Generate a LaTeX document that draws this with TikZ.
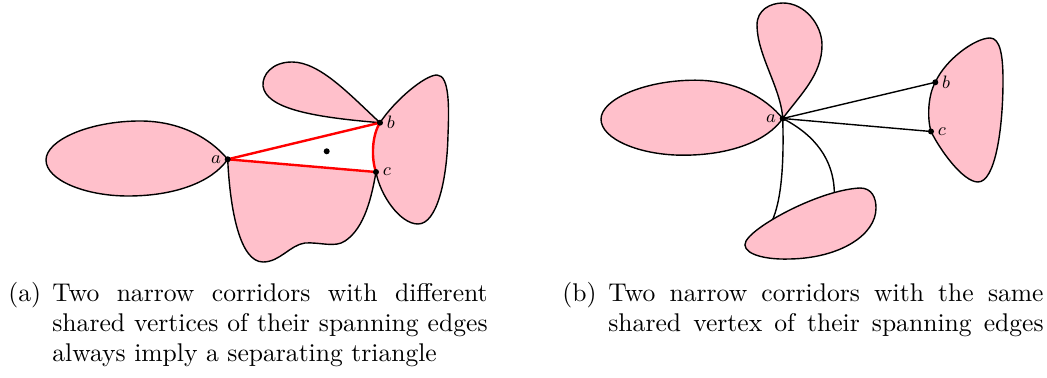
\documentclass[tikz,border=0pt]{standalone}
\usepackage{xcolor}
\definecolor{pinkfill}{RGB}{255,192,203}
\newcommand{\capline}[1]{\scalebox{1.28}{\makebox[170pt][s]{#1}}}
\newcommand{\caplast}[1]{\scalebox{1.28}{#1}}
\begin{document}
\begin{tikzpicture}[x=0.5pt,y=-0.5pt,
  outl/.style={draw=black, line width=0.7pt},
  redl/.style={draw=red, line width=1.2pt},
  edgel/.style={draw=black, line width=0.7pt},
  dot/.style={circle, fill=black, inner sep=0pt, minimum size=3pt},
  lab/.style={font=\fontsize{9}{11}\selectfont, inner sep=1.5pt},
  captext/.style={anchor=base west, inner sep=0pt}]
\useasboundingbox (0,0) rectangle (1047,378);
% ---------- coordinates ----------
\coordinate (A1) at (227.7,159.3);
\coordinate (B1) at (380,122.7);
\coordinate (C1) at (376,172);
\coordinate (M1) at (326.7,151.3);
\coordinate (A2) at (782.7,118.5);
\coordinate (B2) at (935.3,82.3);
\coordinate (C2) at (931,131.5);
% ---------- panel (a) ----------
% left blob
\path[fill=pinkfill, outl] (A1) .. controls (210,138) and (180,121) .. (140,121)
  .. controls (90,121) and (46,140) .. (46,160)
  .. controls (46,180) and (85,196) .. (128,196)
  .. controls (175,196) and (212,182) .. (A1) -- cycle;
% upper petal
\path[fill=pinkfill, outl] (B1) .. controls (350,95) and (320,62) .. (292,62)
  .. controls (272,62) and (262,75) .. (263,86)
  .. controls (266,108) and (310,117) .. (B1) -- cycle;
% right blob
\fill[pinkfill] (B1) .. controls (395,100) and (425,75) .. (437,75)
  .. controls (450,75) and (449,110) .. (448,135)
  .. controls (447,180) and (437,224) .. (418,224)
  .. controls (400,224) and (380,195) .. (C1)
  .. controls (371,158) and (372,135) .. (B1) -- cycle;
\draw[outl] (B1) .. controls (395,100) and (425,75) .. (437,75)
  .. controls (450,75) and (449,110) .. (448,135)
  .. controls (447,180) and (437,224) .. (418,224)
  .. controls (400,224) and (380,195) .. (C1);
% bottom blob
\fill[pinkfill] (A1) .. controls (230,210) and (240,262) .. (263,262)
  .. controls (280,262) and (290,245) .. (305,243)
  .. controls (320,242) and (335,248) .. (345,241)
  .. controls (365,228) and (372,195) .. (C1) -- cycle;
\draw[outl] (A1) .. controls (230,210) and (240,262) .. (263,262)
  .. controls (280,262) and (290,245) .. (305,243)
  .. controls (320,242) and (335,248) .. (345,241)
  .. controls (365,228) and (372,195) .. (C1);
% red triangle
\draw[redl] (A1) -- (B1);
\draw[redl] (A1) -- (C1);
\draw[redl] (C1) .. controls (371,158) and (372,135) .. (B1);
% ---------- panel (b) ----------
% left blob
\path[fill=pinkfill, outl] (A2) .. controls (765,97.2) and (735,80.2) .. (695,80.2)
  .. controls (645,80.2) and (601,99.2) .. (601,119.2)
  .. controls (601,139.2) and (640,155.2) .. (683,155.2)
  .. controls (730,155.2) and (767,141.2) .. (A2) -- cycle;
% top petal
\path[fill=pinkfill, outl] (A2) .. controls (781,88) and (757,55) .. (757,25)
  .. controls (757,10) and (770,3) .. (783,3)
  .. controls (805,3) and (822,25) .. (822,45)
  .. controls (822,75) and (800,95) .. (A2) -- cycle;
% curves to bottom blob
\coordinate (D1) at (771.7,221.7);
\coordinate (D2) at (834.3,193);
\draw[edgel] (A2) .. controls (784,160) and (782,200) .. (D1);
\draw[edgel] (A2) .. controls (815,135) and (834,160) .. (D2);
% bottom blob
\path[fill=pinkfill, outl] (746,241) .. controls (755,225) and (820,190) .. (860,188)
  .. controls (872,188) and (876,198) .. (876,208)
  .. controls (876,235) and (840,258) .. (790,259)
  .. controls (760,260) and (740,252) .. (746,241) -- cycle;
% right blob
\path[fill=pinkfill, outl] (C2) .. controls (927,118) and (928,95) .. (B2)
  .. controls (945,60) and (975,38) .. (990,38)
  .. controls (1000,38) and (1003,55) .. (1003,80)
  .. controls (1003,130) and (995,182) .. (978,182)
  .. controls (963,182) and (940,150) .. (C2) -- cycle;
\draw[edgel] (A2) -- (B2);
\draw[edgel] (A2) -- (C2);
% ---------- dots ----------
\node[dot, label={[lab]left:$a$}] (a1) at (A1) {};
\node[dot, label={[lab]right:$b$}] (b1) at (B1) {};
\node[dot, label={[lab]right:$c$}] (c1) at (C1) {};
\node[dot] (m1) at (M1) {};
\node[dot, label={[lab]left:$a$}] (a2) at (A2) {};
\node[dot, label={[lab]right:$b$}] (b2) at (B2) {};
\node[dot, label={[lab]right:$c$}] (c2) at (C2) {};
% ---------- captions ----------
\node[captext] (capa) at (8,302) {\caplast{(a)}};
\node[captext] (capa1) at (52,302) {\capline{Two narrow corridors with different}};
\node[captext] (capa2) at (52,332) {\capline{shared vertices of their spanning edges}};
\node[captext] (capa3) at (52,362) {\caplast{always imply a separating triangle}};
\node[captext] (capb) at (562,302) {\caplast{(b)}};
\node[captext] (capb1) at (608,302) {\capline{Two narrow corridors with the same}};
\node[captext] (capb2) at (608,332) {\capline{shared vertex of their spanning edges}};
\end{tikzpicture}
\end{document}
